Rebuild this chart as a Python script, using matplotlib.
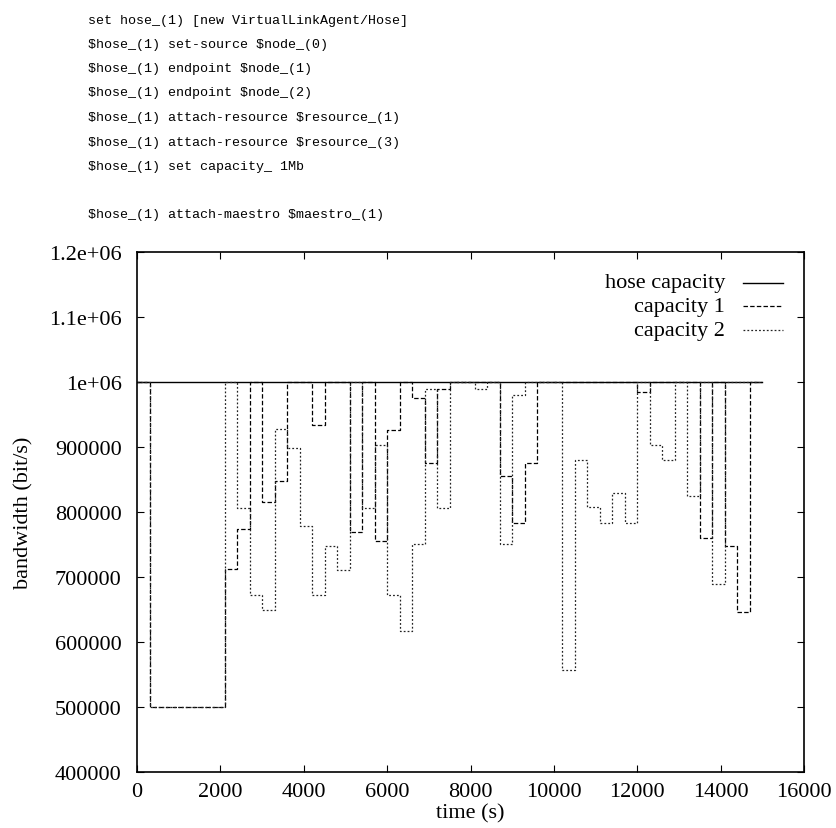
import matplotlib
matplotlib.use("Agg")
import matplotlib.pyplot as plt

# ---- data ----
hose_t = [0, 15000]
hose_v = [1000000, 1000000]

cap1_t = [0, 300, 2100, 2400, 2700, 3000, 3300, 3600, 4200, 4500, 5100, 5400,
          5700, 6000, 6300, 6600, 6900, 7200, 7500, 8700, 9000, 9300, 9600,
          12000, 12300, 13500, 13800, 14100, 14400, 14700, 15000]
cap1_v = [1000000, 500000, 713000, 774000, 1000000, 815000, 847000, 1000000,
          934000, 1000000, 770000, 1000000, 755000, 926000, 1000000, 976000,
          875000, 990000, 1000000, 856000, 783000, 875000, 1000000,
          985000, 1000000, 760000, 1000000, 747000, 646000, 1000000, 1000000]

cap2_t = [0, 300, 2100, 2400, 2700, 3000, 3300, 3600, 3900, 4200, 4500, 4800,
          5100, 5400, 5700, 6000, 6300, 6600, 6900, 7200, 7500, 8100, 8400,
          8700, 9000, 9300, 10200, 10500, 10800, 11100, 11400, 11700, 12000,
          12300, 12600, 12900, 13200, 13500, 13800, 14100, 15000]
cap2_v = [1000000, 500000, 1000000, 806000, 672000, 650000, 927000, 898000,
          778000, 672000, 747000, 711000, 1000000, 806000, 903000, 672000,
          617000, 751000, 990000, 806000, 1000000, 990000, 1000000,
          751000, 980000, 1000000, 557000, 880000, 807000, 783000, 829000,
          783000, 1000000, 903000, 880000, 1000000, 825000, 1000000, 690000,
          1000000, 1000000]

series_labels = ["hose capacity", "capacity 1", "capacity 2"]
x_ticks = [0, 2000, 4000, 6000, 8000, 10000, 12000, 14000, 16000]
y_ticks = [400000, 500000, 600000, 700000, 800000, 900000, 1000000, 1100000, 1200000]
y_tick_labels = ["400000", "500000", "600000", "700000", "800000", "900000",
                 "1e+06", "1.1e+06", "1.2e+06"]

code_lines = [
    "set hose_(1) [new VirtualLinkAgent/Hose]",
    "$hose_(1) set-source $node_(0)",
    "$hose_(1) endpoint $node_(1)",
    "$hose_(1) endpoint $node_(2)",
    "$hose_(1) attach-resource $resource_(1)",
    "$hose_(1) attach-resource $resource_(3)",
    "$hose_(1) set capacity_ 1Mb",
    "",
    "$hose_(1) attach-maestro $maestro_(1)",
]

# ---- figure ----
plt.rcParams['lines.scale_dashes'] = False
W, H = 836, 829
fig = plt.figure(figsize=(W / 100, H / 100), dpi=100)
ax = fig.add_axes([137 / W, 1 - 773 / H, (804 - 137) / W, (773 - 253) / H])

serif = ["Liberation Serif", "DejaVu Serif"]
fs = 16

dash1 = (0, (3.2, 1.6))
dash2 = (0, (1.3, 1.5))

ax.step(hose_t, hose_v, where='post', color='black', lw=1.0)
ax.step(cap1_t, cap1_v, where='post', color='black', lw=0.9, linestyle=dash1)
ax.step(cap2_t, cap2_v, where='post', color='#222222', lw=0.9, linestyle=dash2)

ax.set_xlim(0, 16000)
ax.set_ylim(400000, 1200000)
ax.set_xticks(x_ticks)
ax.set_xticklabels([str(t) for t in x_ticks], fontfamily=serif, fontsize=fs)
ax.set_yticks(y_ticks)
ax.set_yticklabels(y_tick_labels, fontfamily=serif, fontsize=fs)
ax.tick_params(direction='in', length=5, width=0.8, top=True, right=True)
ax.tick_params(axis='y', pad=11)
ax.tick_params(axis='x', pad=7)
for s in ax.spines.values():
    s.set_linewidth(1.2)

ax.set_xlabel("time (s)", fontfamily=serif, fontsize=fs, labelpad=2)
ax.set_ylabel("bandwidth (bit/s)", fontfamily=serif, fontsize=fs, labelpad=11)

# manual legend (gnuplot style: text right-aligned, sample to the right)
rows_y = [0.9404, 0.8952, 0.8500]
styles = [dict(color='black', lw=1.0, linestyle='-'),
          dict(color='black', lw=0.9, linestyle=dash1),
          dict(color='#222222', lw=0.9, linestyle=dash2)]
for lab, yy, st in zip(series_labels, rows_y, styles):
    ax.text(0.8816, yy, lab, transform=ax.transAxes, ha='right', va='center',
            fontfamily=serif, fontsize=fs)
    ax.plot([0.9085, 0.9685], [yy, yy], transform=ax.transAxes, **st)

# code text above the chart
line_y = [21, 45, 69, 93, 118, 143, 167, 191, 215]
for txt, yy in zip(code_lines, line_y):
    if txt:
        fig.text(88 / W, 1 - yy / H, txt, ha='left', va='center',
                 fontfamily=["Liberation Mono", "DejaVu Sans Mono"],
                 fontsize=9.6, parse_math=False)

fig.savefig("out.png", dpi=100)
